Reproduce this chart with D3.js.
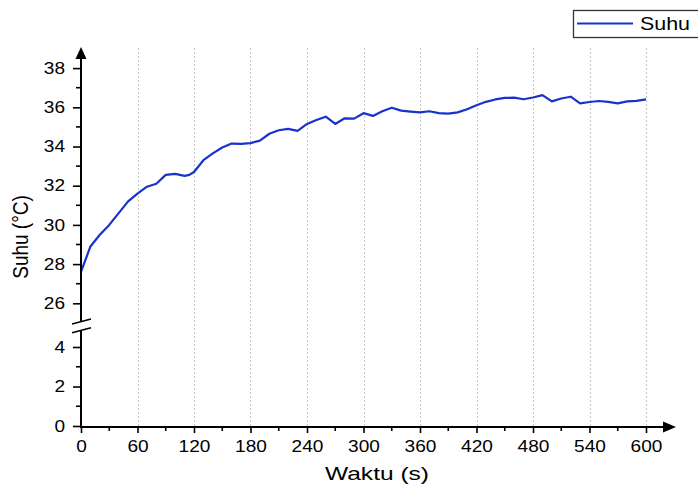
<!DOCTYPE html>
<html><head><meta charset="utf-8">
<script src="https://cdn.jsdelivr.net/npm/d3@7"></script>
<style>
body{margin:0;background:#fff}
svg{display:block}
text{font-family:"Liberation Sans",Arial,sans-serif;fill:#000}
</style>
</head><body><svg id="c" width="698" height="486"></svg>
<script>
const timeSec=[0,10,20,30,40,50,60,70,80,90,100,110,115,120,130,140,150,160,170,180,190,200,210,220,230,240,250,260,270,280,290,300,310,320,330,340,350,360,370,380,390,400,410,420,430,440,450,460,470,480,490,500,510,520,530,540,550,560,570,580,590,600];
const suhu=[27.6,28.9,29.5,30.0,30.6,31.2,31.6,31.95,32.1,32.55,32.6,32.5,32.55,32.7,33.3,33.65,33.95,34.15,34.13,34.17,34.3,34.65,34.83,34.9,34.8,35.15,35.35,35.52,35.15,35.44,35.42,35.7,35.56,35.8,35.98,35.83,35.78,35.74,35.8,35.7,35.68,35.74,35.9,36.1,36.28,36.4,36.48,36.49,36.41,36.5,36.62,36.3,36.45,36.54,36.2,36.27,36.32,36.28,36.2,36.3,36.33,36.4];
const xTicks=[0,60,120,180,240,300,360,420,480,540,600];
const xMinorTicks=[30,90,150,210,270,330,390,450,510,570];
const yTicksUpper=[26,28,30,32,34,36,38];
const yMinorUpper=[27,29,31,33,35,37];
const yTicksLower=[0,2,4];
const yMinorLower=[1,3];
const seriesName="Suhu";
const xTitle="Waktu (s)";
const yTitle="Suhu (°C)";

const svg=d3.select("#c");
const x=d3.scaleLinear().domain([0,600]).range([81,646]);
const yU=d3.scaleLinear().domain([26,38]).range([303.3,68.1]);
const yL=d3.scaleLinear().domain([0,4]).range([426,347]);
const axisY=427, axisX=81;

// grid
svg.append("g").selectAll("line").data(xTicks.filter(d=>d>0)).join("line")
  .attr("x1",d=>Math.round(x(d))+0.5).attr("x2",d=>Math.round(x(d))+0.5)
  .attr("y1",48).attr("y2",axisY-1)
  .attr("stroke","#c4c4c4").attr("stroke-width",1).attr("stroke-dasharray","2,2");

// data line
const data=timeSec.map((t,i)=>({t:t,v:suhu[i]}));
svg.append("path").datum(data)
  .attr("fill","none").attr("stroke","#1733cc").attr("stroke-width",2.2)
  .attr("stroke-linejoin","round")
  .attr("d",d3.line().x(d=>x(d.t)).y(d=>yU(d.v)));

function styleLabels(g,fs){
  g.selectAll(".tick text").attr("font-size",fs).attr("font-family","Liberation Sans, Arial, sans-serif")
   .attr("fill","#000")
   .attr("textLength",function(){return this.textContent.length*10.6;})
   .attr("lengthAdjust","spacingAndGlyphs");
  g.selectAll(".tick line").attr("stroke","#000").attr("stroke-width",1.6);
}

// x axis
const gx=svg.append("g").attr("transform",`translate(0,${axisY})`)
  .call(d3.axisBottom(x).tickValues(xTicks).tickSize(6).tickPadding(8).tickFormat(d3.format("d")));
gx.select(".domain").remove();
styleLabels(gx,16);
svg.append("g").selectAll("line").data(xMinorTicks).join("line")
  .attr("x1",d=>x(d)).attr("x2",d=>x(d)).attr("y1",axisY).attr("y2",axisY+4)
  .attr("stroke","#000").attr("stroke-width",1.6);

// y axes
const gyU=svg.append("g").attr("transform",`translate(${axisX},0)`)
  .call(d3.axisLeft(yU).tickValues(yTicksUpper).tickSize(8).tickPadding(8).tickFormat(d3.format("d")));
gyU.select(".domain").remove();
styleLabels(gyU,16);
const gyL=svg.append("g").attr("transform",`translate(${axisX},0)`)
  .call(d3.axisLeft(yL).tickValues(yTicksLower).tickSize(8).tickPadding(8).tickFormat(d3.format("d")));
gyL.select(".domain").remove();
styleLabels(gyL,16);
svg.append("g").selectAll("line").data(yMinorUpper.map(v=>yU(v)).concat(yMinorLower.map(v=>yL(v)))).join("line")
  .attr("x1",axisX-5).attr("x2",axisX).attr("y1",d=>d).attr("y2",d=>d)
  .attr("stroke","#000").attr("stroke-width",1.6);

// axis lines
svg.append("line").attr("x1",axisX).attr("x2",axisX).attr("y1",56).attr("y2",yU(25.07))
  .attr("stroke","#000").attr("stroke-width",2);
svg.append("line").attr("x1",axisX).attr("x2",axisX).attr("y1",yL(4.85)).attr("y2",axisY+1)
  .attr("stroke","#000").attr("stroke-width",2);
svg.append("line").attr("x1",axisX-1).attr("x2",666).attr("y1",axisY).attr("y2",axisY)
  .attr("stroke","#000").attr("stroke-width",2);
// arrowheads
svg.append("path").attr("d",`M${axisX},47 L${axisX-5.5},59 L${axisX+5.5},59 Z`).attr("fill","#000");
svg.append("path").attr("d",`M676,${axisY} L663,${axisY-5.5} L663,${axisY+5.5} Z`).attr("fill","#000");
// break marks
const bU=yU(25.07), bL=yL(4.85);
svg.append("line").attr("x1",72).attr("y1",bU+2.5).attr("x2",91).attr("y2",bU-2.5)
  .attr("stroke","#000").attr("stroke-width",1.5);
svg.append("line").attr("x1",72).attr("y1",bL+2.5).attr("x2",91).attr("y2",bL-2.5)
  .attr("stroke","#000").attr("stroke-width",1.5);

// titles
svg.append("text").attr("x",377).attr("y",480).attr("text-anchor","middle")
  .attr("font-size",19).attr("textLength",104).attr("lengthAdjust","spacingAndGlyphs").text(xTitle);
svg.append("text").attr("transform","translate(28,237) rotate(-90) scale(1,1.18)")
  .attr("text-anchor","middle").attr("font-size",19).text(yTitle);

// legend
const lg=svg.append("g");
lg.append("rect").attr("x",573.5).attr("y",10.5).attr("width",130).attr("height",27)
  .attr("fill","#fff").attr("stroke","#333").attr("stroke-width",1.3);
lg.append("line").attr("x1",577).attr("x2",633).attr("y1",23.5).attr("y2",23.5)
  .attr("stroke","#1733cc").attr("stroke-width",2.2);
lg.append("text").attr("x",640).attr("y",29.5).attr("font-size",19)
  .attr("textLength",50).attr("lengthAdjust","spacingAndGlyphs").text(seriesName);
</script>
</body></html>
